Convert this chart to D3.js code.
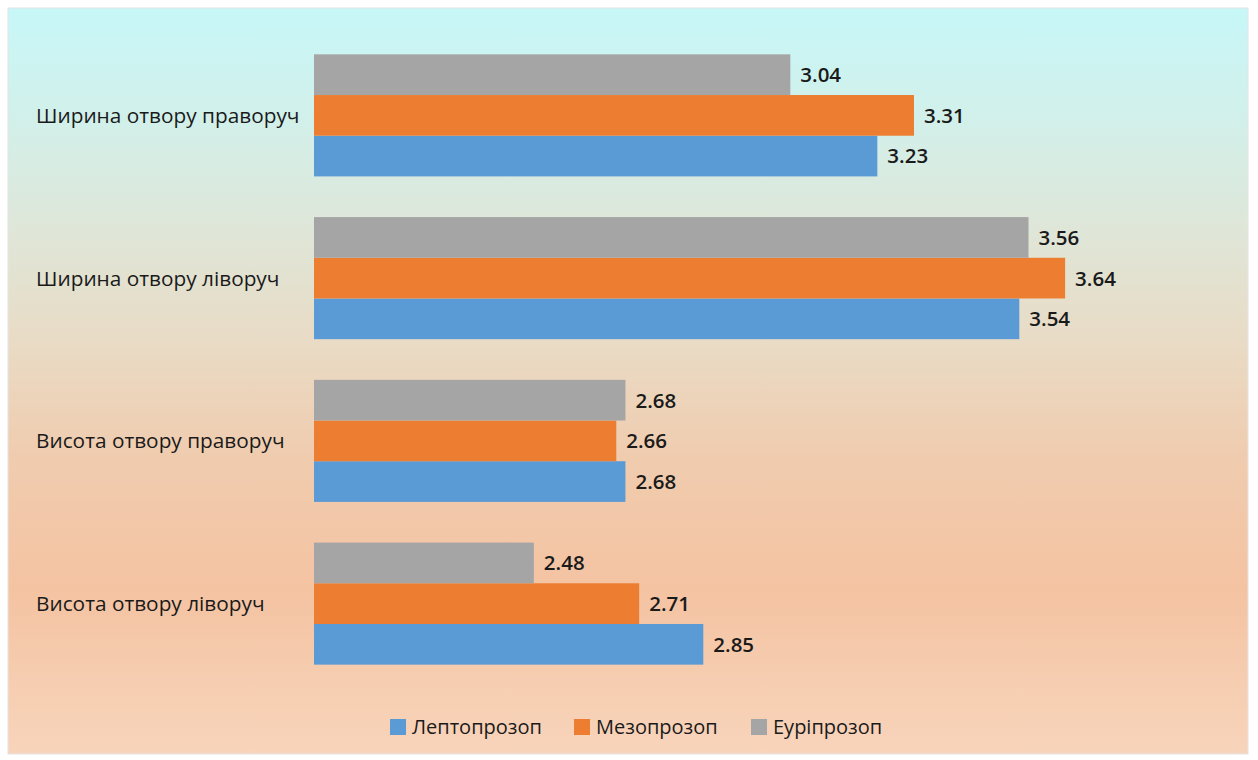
<!DOCTYPE html>
<html>
<head>
<meta charset="utf-8">
<script src="https://cdn.jsdelivr.net/npm/d3@7"></script>
<style>
  html, body { margin: 0; padding: 0; background: #ffffff; }
  svg { display: block; }
  text { font-family: "Open Sans", "Noto Sans", sans-serif; fill: #1a1a1a; }
</style>
</head>
<body>
<svg id="chart" width="1258" height="760"></svg>
<script>
// Categories, top to bottom
const categories = [
  "Ширина отвору праворуч",
  "Ширина отвору ліворуч",
  "Висота отвору праворуч",
  "Висота отвору ліворуч"
];
// Series (legend order)
const seriesNames = ["Лептопрозоп", "Мезопрозоп", "Еурiпрозоп"];
const leptoprozop = [3.23, 3.54, 2.68, 2.85];
const mezoprozop  = [3.31, 3.64, 2.66, 2.71];
const euriprozop  = [3.04, 3.56, 2.68, 2.48];
const seriesColors = ["#5b9bd5", "#ed7d31", "#a5a5a5"];
const xDomain = [2, 4];

const series = [leptoprozop, mezoprozop, euriprozop].map((vals, i) => ({
  name: seriesNames[i], color: seriesColors[i], values: vals
}));

const svg = d3.select("#chart");

// Chart area background: soft cyan-to-peach vertical gradient
const defs = svg.append("defs");
const grad = defs.append("linearGradient")
  .attr("id", "bg").attr("x1", 0).attr("y1", 0).attr("x2", 0).attr("y2", 1);
[
  [0.00, "#c7f7f8"],
  [0.15, "#d2f0ea"],
  [0.30, "#dfe6d8"],
  [0.45, "#e9dbc5"],
  [0.60, "#f0ccaf"],
  [0.78, "#f4c3a2"],
  [0.90, "#f6cdb0"],
  [1.00, "#f8d4bb"]
].forEach(([o, c]) => grad.append("stop").attr("offset", o).attr("stop-color", c));

svg.append("rect")
  .attr("x", 8).attr("y", 8).attr("width", 1240).attr("height", 746)
  .attr("fill", "url(#bg)")
  .attr("stroke", "#e4e4e4").attr("stroke-width", 1);

// Scales
const x = d3.scaleLinear().domain(xDomain).range([314, 1230]);
const y0 = d3.scaleBand().domain(categories).range([34, 685]).paddingInner(0.25).paddingOuter(0.125);
// Within each group the last series sits on top
const y1 = d3.scaleBand().domain(seriesNames.slice().reverse()).range([0, y0.bandwidth()]);

const groups = svg.append("g").selectAll("g")
  .data(categories)
  .join("g")
  .attr("transform", d => `translate(0,${y0(d)})`);

series.forEach(s => {
  groups.append("rect")
    .attr("x", x(xDomain[0]))
    .attr("y", y1(s.name))
    .attr("height", y1.bandwidth())
    .attr("width", (d, i) => x(s.values[i]) - x(xDomain[0]))
    .attr("fill", s.color);

  groups.append("text")
    .attr("x", (d, i) => x(s.values[i]) + 10)
    .attr("y", y1(s.name) + y1.bandwidth() / 2)
    .attr("dy", "0.36em")
    .attr("font-size", 20.5)
    .attr("font-weight", 600)
    .text((d, i) => s.values[i].toFixed(2));
});

// Category labels
const yAxis = d3.axisLeft(y0).tickSize(0).tickPadding(0);
const yAxisG = svg.append("g").attr("transform", "translate(36,0)").call(yAxis);
yAxisG.select(".domain").remove();
yAxisG.selectAll("text")
  .attr("text-anchor", "start")
  .attr("font-size", 20.8)
  .attr("font-family", "\"Open Sans\", \"Noto Sans\", sans-serif")
  .attr("fill", "#1a1a1a")
  .attr("dy", "0.36em");

// Legend
const legendX = [390, 574, 751];
const legend = svg.append("g").selectAll("g")
  .data(series)
  .join("g")
  .attr("transform", (d, i) => `translate(${legendX[i]},727)`);
legend.append("rect")
  .attr("x", 0).attr("y", -8).attr("width", 16).attr("height", 16)
  .attr("fill", d => d.color);
legend.append("text")
  .attr("x", 22).attr("dy", "0.36em")
  .attr("font-size", 20)
  .text(d => d.name);
</script>
</body>
</html>
